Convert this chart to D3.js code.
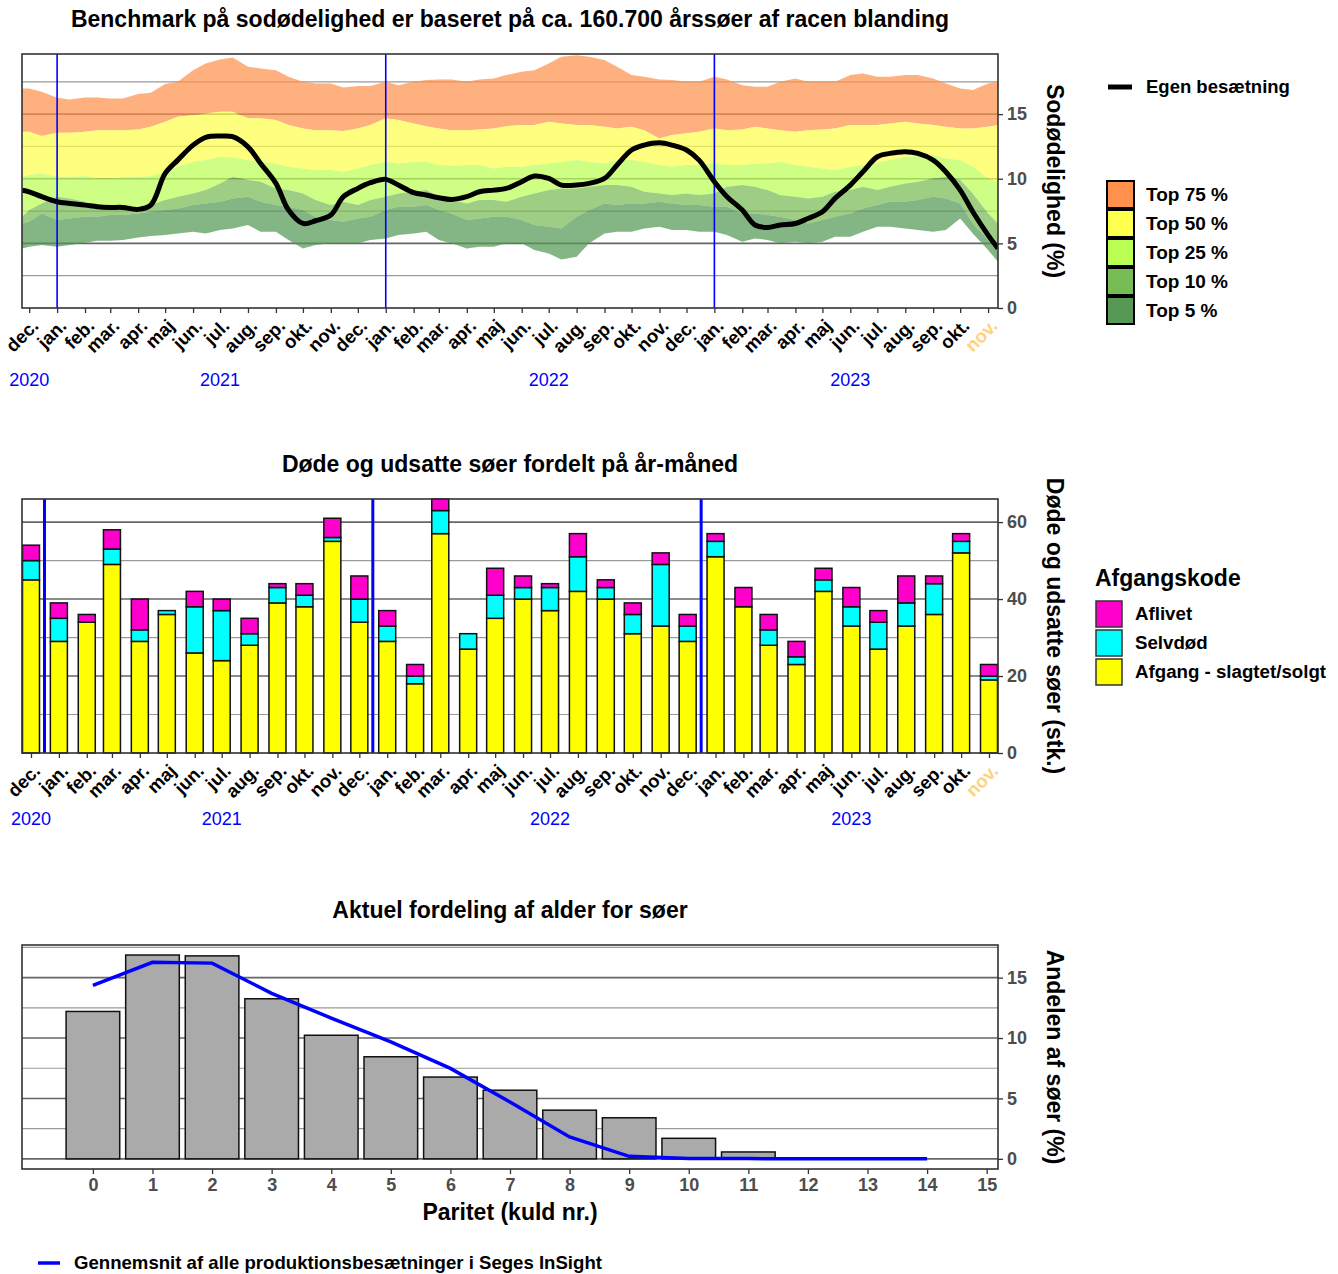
<!DOCTYPE html>
<html>
<head>
<meta charset="utf-8">
<script src="https://cdn.jsdelivr.net/npm/d3@7"></script>
<style>
  body { margin: 0; background: #fff; }
  svg { display: block; font-family: "Liberation Sans", Arial, sans-serif; }
</style>
</head>
<body>
<svg width="1338" height="1274"></svg>
<script>
// ---------- data ----------
const monthNames = ["jan.", "feb.", "mar.", "apr.", "maj", "jun.", "jul.", "aug.", "sep.", "okt.", "nov.", "dec."];

// benchmark band edges, sampled the 1st and 15th of each month (Nov 23 2020 .. Nov 12 2023)
const edgeTop = [16.99,16.99,16.73,16.26,16.13,16.29,16.29,16.21,16.21,16.55,16.65,17.32,17.50,18.40,18.92,19.23,19.38,18.66,18.53,18.40,17.89,17.50,17.37,17.37,17.06,17.17,17.17,17.50,17.24,17.50,17.63,17.68,17.68,17.50,17.68,17.76,18.02,18.27,18.40,18.92,19.43,19.56,19.43,19.18,18.66,18.02,17.89,17.68,17.63,17.50,17.50,17.89,17.68,17.24,17.11,17.11,17.50,17.76,17.50,17.50,17.50,18.02,18.15,17.89,17.89,18.02,18.02,17.76,17.37,16.99,16.86,17.37,17.50];
const edge75 = [13.63,13.63,13.30,13.56,13.56,13.63,13.76,13.76,13.76,13.81,14.02,14.41,14.79,14.92,15.05,15.18,15.18,14.67,14.67,14.54,14.15,13.89,13.76,13.76,13.69,13.89,14.15,14.67,14.54,14.28,14.07,13.89,13.76,13.76,13.81,13.89,14.07,14.15,14.15,14.41,14.28,14.15,14.15,14.02,13.89,14.02,13.76,13.12,13.38,13.51,13.63,13.89,13.76,13.81,14.02,13.89,13.76,13.63,13.76,13.81,13.89,14.15,14.15,14.15,14.28,14.41,14.28,14.15,14.02,13.89,13.89,14.02,14.15];
const edge50 = [10.15,10.28,10.41,10.15,10.15,10.21,10.02,10.02,10.15,10.15,10.21,10.54,10.93,11.31,11.44,11.70,11.65,11.44,11.31,11.18,10.93,10.80,10.67,10.67,10.54,10.80,11.06,11.31,11.18,11.31,11.31,11.06,10.98,11.06,11.06,10.80,10.93,10.93,11.06,11.18,11.31,11.44,11.31,11.18,11.44,11.44,11.31,11.06,10.93,11.06,11.06,11.18,11.06,11.06,11.18,11.18,11.31,11.06,10.93,10.80,10.67,10.93,11.06,11.24,11.44,11.70,11.75,11.83,11.57,11.44,10.93,10.02,9.77];
const edge25 = [7.06,7.58,8.09,8.61,8.48,8.22,7.83,7.70,7.63,7.70,7.96,8.35,8.61,8.86,9.12,9.64,10.15,9.90,9.77,9.25,9.12,8.86,8.35,7.96,8.22,7.96,8.35,8.61,8.86,8.99,9.12,8.61,8.35,8.09,8.35,8.35,8.22,8.61,8.86,9.12,9.25,9.25,9.38,9.51,9.51,9.38,8.99,8.86,8.74,8.86,8.74,8.86,9.38,9.51,9.38,9.12,8.74,8.61,8.48,8.61,8.99,9.12,9.38,9.12,9.38,9.64,9.77,10.02,10.15,9.90,8.86,7.32,6.54];
const edge10 = [6.54,6.67,7.32,6.80,6.93,7.06,7.06,7.19,7.19,7.32,7.45,7.58,7.70,7.96,8.09,8.22,8.48,8.61,8.22,7.96,7.83,7.58,7.06,6.80,6.67,6.93,7.06,7.58,7.83,7.83,7.96,7.58,7.32,6.80,6.93,7.06,7.06,6.80,6.42,6.29,6.16,7.06,7.58,8.09,7.96,8.09,8.09,8.22,8.09,7.96,7.96,7.83,7.83,7.32,7.32,7.19,7.06,6.80,6.54,6.80,7.06,7.32,7.70,7.96,8.22,8.22,8.35,8.61,8.48,8.09,6.54,5.26,4.35];
const edgeBottom = [4.61,4.74,4.87,4.74,4.87,5.05,5.20,5.20,5.26,5.46,5.57,5.64,5.77,5.90,5.77,6.03,6.16,6.42,5.90,5.90,5.26,4.61,4.87,5.00,5.00,5.00,5.26,5.38,5.64,5.77,5.90,5.26,5.00,4.61,4.74,4.74,5.00,5.00,4.48,4.22,3.76,3.97,5.00,5.77,5.90,5.90,6.16,6.29,6.03,6.03,5.90,5.90,5.64,5.13,5.38,5.26,5.00,5.13,5.00,5.13,5.51,5.51,5.90,6.29,6.29,6.16,6.03,5.90,6.03,6.93,5.77,4.48,3.58];
const ownHerd = [9.12,8.99,8.61,8.22,8.09,7.96,7.83,7.78,7.78,7.63,7.96,10.41,11.44,12.60,13.20,13.30,13.25,12.47,11.18,9.64,7.58,6.54,6.75,7.19,8.61,9.25,9.69,9.95,9.51,8.92,8.74,8.53,8.40,8.61,8.99,9.12,9.25,9.77,10.21,10.02,9.51,9.51,9.64,10.02,11.06,12.22,12.60,12.78,12.60,12.22,11.44,9.77,8.61,7.58,6.42,6.23,6.42,6.54,6.93,7.45,8.48,9.51,10.54,11.70,11.96,12.09,11.96,11.44,10.54,9.12,7.45,5.64,4.61];

const bandNames = ["Top 75 %", "Top 50 %", "Top 25 %", "Top 10 %", "Top 5 %"];
const bandColors = ["#FF914D", "#FFFF4D", "#BBFF55", "#77BB55", "#559955"];

// dead / culled sows per month, Dec 2020 .. Nov 2023
const slaughtered = [45,29,34,49,29,36,26,24,28,39,38,55,34,29,18,57,27,35,40,37,42,40,31,33,29,51,38,28,23,42,33,27,33,36,52,19];
const selfDead = [5,6,0,4,3,1,12,13,3,4,3,1,6,4,2,6,4,6,3,6,9,3,5,16,4,4,0,4,2,3,5,7,6,8,3,1];
const euthanized = [4,4,2,5,8,0,4,3,4,1,3,5,6,4,3,3,0,7,3,1,6,2,3,3,3,2,5,4,4,3,5,3,7,2,2,3];
const codeNames = ["Aflivet", "Selvdød", "Afgang - slagtet/solgt"];
const codeColors = ["#FF00CC", "#00FFFF", "#FFFF00"];

// parity distribution
const parity = d3.range(0, 15);
const parityShare = [12.2,16.87,16.8,13.25,10.23,8.45,6.77,5.68,4.03,3.4,1.7,0.57,0,0,0];
const parityAvg = [14.35,16.27,16.2,13.7,11.65,9.68,7.49,4.7,1.81,0.21,0.03,0.02,0.01,0,0];

const yearLabels = [
  { year: "2020", date: new Date(2020, 11, 1) },
  { year: "2021", date: new Date(2021, 6, 1) },
  { year: "2022", date: new Date(2022, 6, 1) },
  { year: "2023", date: new Date(2023, 5, 1) },
];

// ---------- setup ----------
const svg = d3.select("svg");
const L = 22, R = 998;
const majorGrid = "#666", minorGrid = "#9a9a9a";

const bandDates = [new Date(2020, 10, 23)];
for (let m = new Date(2020, 11, 1); m < new Date(2023, 10, 1); m = d3.timeMonth.offset(m, 1)) {
  bandDates.push(m, new Date(m.getFullYear(), m.getMonth(), 15));
}
bandDates.push(new Date(2023, 10, 1), new Date(2023, 10, 12));
const months = d3.timeMonth.range(new Date(2020, 11, 1), new Date(2023, 11, 1));

function title(text, y) {
  svg.append("text").attr("x", 510).attr("y", y).attr("text-anchor", "middle")
    .style("font-size", "23px").style("font-weight", "bold").text(text);
}
function sideTitle(text, yMid) {
  svg.append("text").attr("transform", `translate(1047,${yMid}) rotate(90)`)
    .attr("text-anchor", "middle").style("font-size", "23px").style("font-weight", "bold").text(text);
}
function grid(g, y, values, color, width) {
  g.selectAll(null).data(values).join("line")
    .attr("x1", L).attr("x2", R).attr("y1", d => y(d)).attr("y2", d => y(d))
    .attr("stroke", color).attr("stroke-width", width);
}
function border(y0, y1) {
  svg.append("rect").attr("x", L).attr("y", y0).attr("width", R - L).attr("height", y1 - y0)
    .attr("fill", "none").attr("stroke", "#333").attr("stroke-width", 1.6);
}
function rightAxis(y, ticks) {
  const g = svg.append("g").attr("transform", `translate(${R},0)`)
    .call(d3.axisRight(y).tickValues(ticks).tickSize(5).tickPadding(4));
  g.select(".domain").remove();
  g.selectAll(".tick line").attr("stroke", "#333").attr("stroke-width", 1.3);
  g.selectAll(".tick text").attr("fill", "#4D4D4D").style("font-size", "18px")
    .style("font-weight", "bold").attr("font-family", null);
}
function monthAxis(x, yBase, yearY) {
  const g = svg.append("g").attr("transform", `translate(0,${yBase})`)
    .call(d3.axisBottom(x).tickValues(months).tickSize(5)
      .tickFormat(d => monthNames[d.getMonth()]));
  g.select(".domain").remove();
  g.selectAll(".tick line").attr("stroke", "#333").attr("stroke-width", 1.3);
  g.selectAll(".tick text")
    .attr("y", 0).attr("dy", 0).attr("x", 0)
    .attr("transform", "translate(10,19) rotate(-45)")
    .attr("text-anchor", "end").attr("font-family", null)
    .style("font-size", "18.5px").style("font-weight", "bold")
    .attr("fill", (d, i) => (i === months.length - 1 ? "#FFD27F" : "#000"));
  svg.append("g").selectAll("text").data(yearLabels).join("text")
    .attr("x", d => x(d.date)).attr("y", yearY).attr("text-anchor", "middle")
    .attr("fill", "#0000FF").style("font-size", "18px").text(d => d.year);
}

// ---------- chart 1: benchmark ----------
{
  const y0 = 54, y1 = 308;
  const x = d3.scaleTime().domain([new Date(2020, 10, 23), new Date(2023, 10, 12)]).range([L, R]);
  const y = d3.scaleLinear().domain([0, 19.65]).range([y1, y0]);

  title("Benchmark på sodødelighed er baseret på ca. 160.700 årssøer af racen blanding", 27);

  svg.append("defs").append("clipPath").attr("id", "clip1")
    .append("rect").attr("x", L).attr("y", y0).attr("width", R - L).attr("height", y1 - y0);

  const g = svg.append("g");
  grid(g, y, [2.5, 7.5, 12.5, 17.5], minorGrid, 1.2);
  grid(g, y, [5, 10, 15], majorGrid, 1.6);

  const edges = [edgeTop, edge75, edge50, edge25, edge10, edgeBottom];
  const bands = bandNames.map((name, i) => ({ name, color: bandColors[i], hi: edges[i], lo: edges[i + 1] }));
  const area = d3.area().x((d, i) => x(bandDates[i]));
  const pg = svg.append("g").attr("clip-path", "url(#clip1)");
  bands.forEach(b => {
    pg.append("path").datum(bandDates)
      .attr("d", area.y0((d, i) => y(b.lo[i])).y1((d, i) => y(b.hi[i])))
      .attr("fill", b.color).attr("fill-opacity", 0.72);
  });

  pg.selectAll(".yr").data([new Date(2021, 0, 1), new Date(2022, 0, 1), new Date(2023, 0, 1)]).join("line")
    .attr("x1", d => x(d)).attr("x2", d => x(d)).attr("y1", y0).attr("y2", y1)
    .attr("stroke", "#0000FF").attr("stroke-width", 1.6);

  pg.append("path").datum(ownHerd)
    .attr("d", d3.line().x((d, i) => x(bandDates[i])).y(d => y(d)).curve(d3.curveCatmullRom))
    .attr("fill", "none").attr("stroke", "#000").attr("stroke-width", 5);

  border(y0, y1);
  rightAxis(y, [0, 5, 10, 15]);
  monthAxis(x, y1, 386);
  sideTitle("Sodødelighed (%)", (y0 + y1) / 2);

  // legend
  const lg = svg.append("g");
  lg.append("line").attr("x1", 1108).attr("x2", 1132).attr("y1", 87).attr("y2", 87)
    .attr("stroke", "#000").attr("stroke-width", 5);
  lg.append("text").attr("x", 1146).attr("y", 93).style("font-size", "18.5px")
    .style("font-weight", "bold").text("Egen besætning");
  lg.selectAll("rect").data(bands).join("rect")
    .attr("x", 1107).attr("y", (d, i) => 181 + i * 29).attr("width", 27).attr("height", 27)
    .attr("fill", d => d.color).attr("stroke", "#000").attr("stroke-width", 2);
  lg.selectAll(".lab").data(bands).join("text")
    .attr("x", 1146).attr("y", (d, i) => 201 + i * 29).style("font-size", "19px")
    .style("font-weight", "bold").text(d => d.name);
}

// ---------- chart 2: dead / culled sows ----------
{
  const y0 = 499, y1 = 753;
  const x = d3.scaleTime().domain([new Date(2020, 10, 21), new Date(2023, 10, 11)]).range([L, R]);
  const y = d3.scaleLinear().domain([0, 66]).range([y1, y0]);

  title("Døde og udsatte søer fordelt på år-måned", 472);

  const g = svg.append("g");
  grid(g, y, [10, 30, 50], minorGrid, 1.2);
  grid(g, y, [20, 40, 60], majorGrid, 1.6);

  const rows = months.map((m, i) => ({ m, slag: slaughtered[i], self: selfDead[i], afl: euthanized[i] }));
  const stack = d3.stack().keys(["slag", "self", "afl"])(rows);
  const fills = { slag: codeColors[2], self: codeColors[1], afl: codeColors[0] };
  const bw = 17;
  svg.append("g").selectAll("g").data(stack).join("g")
    .attr("fill", d => fills[d.key])
    .selectAll("rect").data(d => d).join("rect")
    .attr("x", d => x(d.data.m) - bw / 2).attr("width", bw)
    .attr("y", d => y(d[1])).attr("height", d => y(d[0]) - y(d[1]))
    .attr("stroke", "#111").attr("stroke-width", 1.5);

  svg.append("g").selectAll("line").data([new Date(2020, 11, 16), new Date(2021, 11, 16), new Date(2022, 11, 16)]).join("line")
    .attr("x1", d => x(d)).attr("x2", d => x(d)).attr("y1", y0).attr("y2", y1)
    .attr("stroke", "#0000FF").attr("stroke-width", 3);

  border(y0, y1);
  rightAxis(y, [0, 20, 40, 60]);
  monthAxis(x, y1, 825);
  sideTitle("Døde og udsatte søer (stk.)", (y0 + y1) / 2);

  const lg = svg.append("g");
  lg.append("text").attr("x", 1095).attr("y", 586).style("font-size", "23px")
    .style("font-weight", "bold").text("Afgangskode");
  lg.selectAll("rect").data(codeNames).join("rect")
    .attr("x", 1096).attr("y", (d, i) => 601 + i * 29).attr("width", 26).attr("height", 26)
    .attr("fill", (d, i) => codeColors[i]).attr("stroke", "#333").attr("stroke-width", 1.5);
  lg.selectAll(".lab").data(codeNames).join("text")
    .attr("x", 1135).attr("y", (d, i) => 620 + i * 29).style("font-size", "18.7px")
    .style("font-weight", "bold").text(d => d);
}

// ---------- chart 3: parity distribution ----------
{
  const y0 = 945, y1 = 1169;
  const x = d3.scaleLinear().domain([-1.19, 15.19]).range([L, R]);
  const y = d3.scaleLinear().domain([-0.84, 17.7]).range([y1, y0]);

  title("Aktuel fordeling af alder for søer", 918);

  const g = svg.append("g");
  grid(g, y, [2.5, 7.5, 12.5, 17.5], minorGrid, 1.2);
  grid(g, y, [0, 5, 10, 15], majorGrid, 1.6);

  svg.append("g").selectAll("rect").data(parity).join("rect")
    .attr("x", d => x(d - 0.45)).attr("width", x(0.9) - x(0))
    .attr("y", (d, i) => y(parityShare[i])).attr("height", (d, i) => y(0) - y(parityShare[i]))
    .attr("fill", "#AAAAAA").attr("stroke", "#111").attr("stroke-width", 1.5);

  svg.append("path").datum(parityAvg)
    .attr("d", d3.line().x((d, i) => x(parity[i])).y(d => y(d)))
    .attr("fill", "none").attr("stroke", "#0000FF").attr("stroke-width", 3.5);

  border(y0, y1);
  rightAxis(y, [0, 5, 10, 15]);

  const xa = svg.append("g").attr("transform", `translate(0,${y1})`)
    .call(d3.axisBottom(x).tickValues(d3.range(0, 16)).tickSize(5).tickPadding(4));
  xa.select(".domain").remove();
  xa.selectAll(".tick line").attr("stroke", "#333").attr("stroke-width", 1.3);
  xa.selectAll(".tick text").attr("fill", "#4D4D4D").attr("font-family", null)
    .style("font-size", "18px").style("font-weight", "bold");

  svg.append("text").attr("x", 510).attr("y", 1220).attr("text-anchor", "middle")
    .style("font-size", "23px").style("font-weight", "bold").text("Paritet (kuld nr.)");
  sideTitle("Andelen af søer (%)", (y0 + y1) / 2);

  svg.append("line").attr("x1", 38).attr("x2", 60).attr("y1", 1263).attr("y2", 1263)
    .attr("stroke", "#0000FF").attr("stroke-width", 3.5);
  svg.append("text").attr("x", 74).attr("y", 1269).style("font-size", "18.6px")
    .style("font-weight", "bold").text("Gennemsnit af alle produktionsbesætninger i Seges InSight");
}
</script>
</body>
</html>
